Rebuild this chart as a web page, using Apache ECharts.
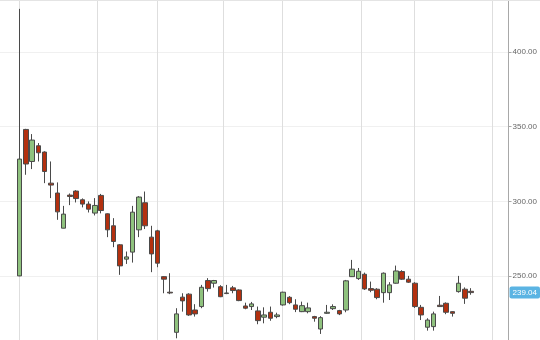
<!DOCTYPE html>
<html>
<head>
<meta charset="utf-8">
<script src="https://cdn.jsdelivr.net/npm/echarts@6/dist/echarts.min.js"></script>
<style>
html,body{margin:0;padding:0;background:#fff;overflow:hidden;width:540px;height:340px}
#wrap{position:relative;width:540px;height:340px;overflow:hidden}
#c{position:absolute;left:0;top:-23px;width:540px;height:374px}
#topline{position:absolute;left:0;top:0;width:540px;height:1px;background:#e4e4e4}
</style>
</head>
<body>
<div id="wrap"><div id="c"></div><div id="topline"></div></div>
<script>
// ---- data ----
const opens  = [250.2,348.1,326.7,337.2,333,312.2,305.6,282.1,304.2,306.9,301.1,298.2,292.2,304,291.7,283.7,271,261.4,266.1,281,299.1,276.1,280.3,249.7,239.3,212.5,236,238,227.4,229.7,247.1,245.3,243,238.4,242.2,240.8,230.1,229.7,226.8,222.6,225.9,223,230.8,235.9,230.8,226.3,226.3,223,214.7,225.2,228.3,227,227.4,249.7,248.4,251.3,241.7,241.3,239,239,245.3,253.1,248,245.3,229.2,215.9,216.3,230.6,231.9,226.3,239.7,241.3,239.9];
const closes = [328.3,325,341,332.5,320,310.9,293,291.5,303.3,301.9,298.2,294.8,297.3,293.9,281,273.2,256.9,262.9,292.8,302.9,283.7,264.9,258.7,248,238.8,224.8,233.5,224.1,224.8,242.6,241.7,247.1,236.3,238.8,240.4,233.7,228.6,231.5,220.3,224.1,221.9,224.1,239.3,232.3,227.9,230.3,228.8,221.9,222.3,225.9,229.7,224.8,246.9,254.7,253.3,241.5,240.6,235.7,252,244.2,253.5,248,246,229.7,224.1,220.7,224.8,229.7,225.9,225.2,245.3,235.3,239.04];
const lows   = [250,317.8,321.6,326.7,312.2,302.2,287.7,282,297.5,299.3,296,292.6,290.6,292,276.1,269.4,250.9,258.2,259.1,276.1,281.5,252.7,256,238.6,238,208.5,226.3,223.5,223,228.6,239.7,242.4,236,238,238.6,233.3,227.9,227.4,217.9,218.5,220.2,221.9,230.3,231.3,226,226,225.2,219.6,211.4,224.8,227.4,224,225.9,249.5,247.5,240.8,239.3,234.6,232.3,234.1,245,247.5,245.5,228.8,220.7,213.6,213.6,229.4,224.6,223,239,231.5,237.6];
const highs  = [428.7,348.5,345,339,333.5,326.7,312.7,297,305.3,307.5,302,300,302.2,305,292,288.8,271.5,266.5,297,303.5,306.6,283.7,281,250,252,228.6,238.6,238.6,231.3,244.2,248.7,247.5,244,244.2,243.5,241.2,232.3,232.8,229.7,229.2,229.7,225.6,239.6,236.7,234.6,233,232.3,223.5,223.3,230.8,231.2,227.5,247.5,260.9,255.5,252.4,246.4,242,252.5,246,257.1,254,250.2,246,230.8,221.9,226.3,236.8,232.5,226.5,250.2,242.5,242];
// y-axis tick values (labels shown as 400.00 etc.)
const yTicks = [250, 300, 350, 400];
// time grid lines, in candle-number units (first candle = 1)
const timeGridIdx = [1, 13.45, 22.98, 33.48, 42.85, 55.4, 63.98, 76.38];
const lastPrice = 239.04;

const candles = opens.map((o, i) => [i + 1, o, closes[i], lows[i], highs[i]]);

const chart = echarts.init(document.getElementById('c'), null, {renderer: 'canvas'});
chart.setOption({
  animation: false,
  backgroundColor: '#fff',
  grid: {left: 0, right: 30, top: 0, bottom: 0},
  xAxis: {
    type: 'value', min: -2.13, max: 78.95, show: false,
    splitLine: {show: false}
  },
  yAxis: {
    type: 'value', position: 'right', min: 200, max: 450, interval: 50,
    axisLine: {show: true, onZero: false, lineStyle: {color: '#a8a8a8', width: 1}},
    axisTick: {show: true, length: 3, lineStyle: {color: '#a8a8a8'}},
    axisLabel: {fontSize: 8, color: '#666', margin: 4, fontFamily: 'Liberation Sans, Arial, sans-serif',
      formatter: v => yTicks.includes(v) ? v.toFixed(2) : ''},
    splitLine: {show: true, lineStyle: {color: '#f0f0f0', width: 1}}
  },
  series: [
    {
      type: 'line', data: [], z: 0, silent: true,
      markLine: {
        z: 0, silent: true, symbol: 'none', animation: false,
        label: {show: false},
        lineStyle: {color: '#dedede', type: 'solid', width: 1},
        data: timeGridIdx.map(v => ({xAxis: v}))
      }
    },
    {
      type: 'candlestick', z: 3, clip: false,
      data: candles,
      barWidth: 5,
      itemStyle: {
        color: '#8fc27e', color0: '#b3300f',
        borderColor: '#4a4a4a', borderColor0: '#4a4a4a', borderWidth: 1
      },
      markLine: {
        z: 6, silent: true, symbol: 'none', animation: false,
        lineStyle: {color: 'rgba(0,0,0,0)', width: 1, type: 'solid'},
        label: {
          show: true, position: 'end', distance: 1,
          formatter: p => Number(p.value).toFixed(2),
          color: '#fff', fontSize: 8, fontFamily: 'Liberation Sans, Arial, sans-serif',
          backgroundColor: '#5bb4e3', padding: [2, 3, 2, 3], borderRadius: 2
        },
        data: [{yAxis: lastPrice}]
      }
    }
  ]
});
</script>
</body>
</html>
